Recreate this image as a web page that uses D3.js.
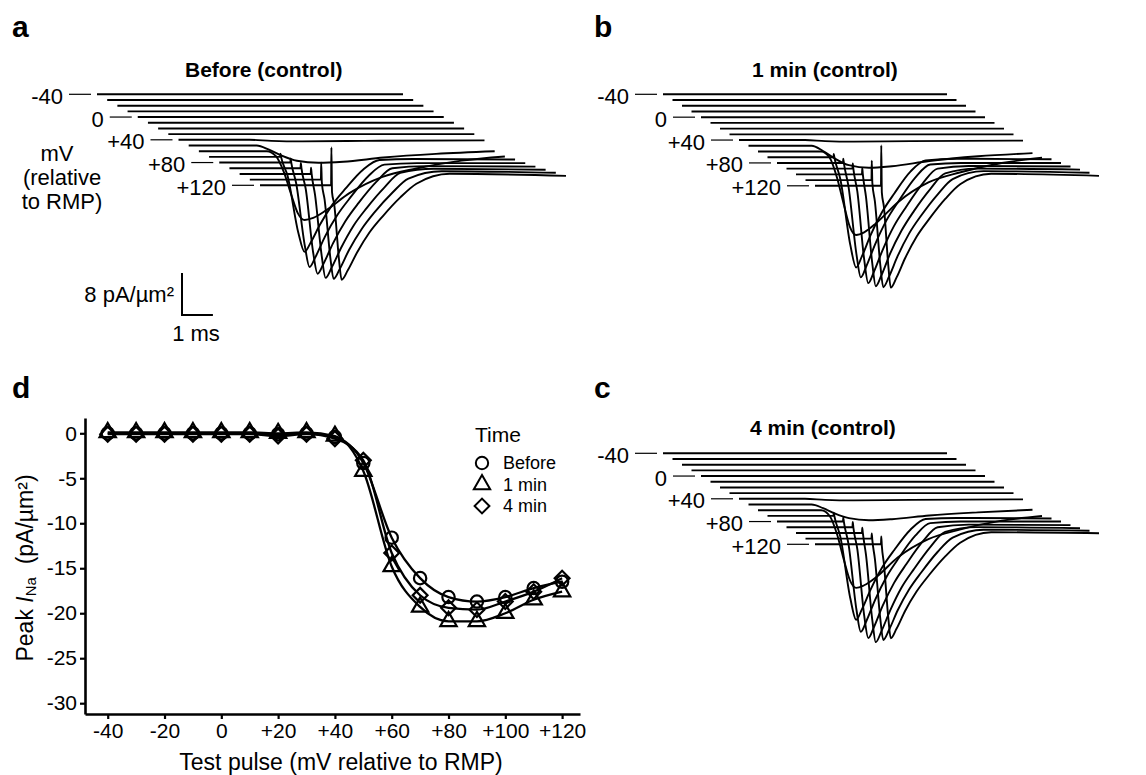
<!DOCTYPE html>
<html>
<head>
<meta charset="utf-8">
<script src="https://cdn.jsdelivr.net/npm/d3@7"></script>
<style>
  body { margin: 0; background: #fff; }
  svg text { font-family: "Liberation Sans", Arial, sans-serif; fill: #000; }
</style>
</head>
<body>
<svg id="fig" width="1146" height="775"></svg>
<script>
// ---- data ----
var testPulses = [-40, -30, -20, -10, 0, 10, 20, 30, 40, 50, 60, 70, 80, 90, 100, 110, 120];
var traceLabels = [-40, 0, 40, 80, 120];
var traceDuration = 9.9; // ms

// key points of each current trace: [time (ms), current (pA/um2)]
var flat = [[0, 0], [9.9, 0]];
var tracesBefore = [
  flat, flat, flat, flat, flat, flat, flat, flat,
  [[0,0],[2.3,0],[3.0,-0.2],[4.0,-0.3],[6.0,-0.2],[9.9,-0.1]],
  [[0,0],[2.2,0],[2.6,-0.8],[3.0,-1.9],[3.5,-2.9],[4.2,-3.3],[5.0,-3.1],[6.3,-2.3],[8.0,-1.6],[9.9,-1.1]],
  [[0,0],[2.2,0],[2.5,-1.0],[2.75,-4.0],[3.0,-8.5],[3.2,-11.8],[3.42,-13.1],[3.7,-12.7],[4.13,-11.2],[4.87,-8.0],[5.94,-4.9],[7.03,-3.3],[8.5,-1.8],[9.9,-1.0]],
  [[0,0],[2.3,0],[2.31,0.6],[2.33,0],[2.54,-3.6],[2.89,-14.5],[3.09,-18.1],[3.29,-16.3],[3.59,-12.9],[3.99,-9.1],[4.42,-6.0],[4.99,-2.4],[5.51,-0.6],[6.6,-0.4],[9.9,-0.5]],
  [[0,0],[2.3,0],[2.31,0.8],[2.33,0],[2.49,-4.0],[2.77,-15.9],[2.92,-19.9],[3.12,-17.9],[3.42,-14.1],[3.82,-10.0],[4.25,-6.6],[4.82,-2.6],[5.34,-0.4],[6.4,-0.1],[9.9,-0.1]],
  [[0,0],[2.3,0],[2.31,1.0],[2.33,0],[2.47,-4.0],[2.71,-16.1],[2.85,-20.1],[3.05,-18.1],[3.35,-14.3],[3.75,-10.1],[4.18,-6.6],[4.75,-2.6],[5.27,0],[6.35,0.4],[9.9,0.3]],
  [[0,0],[2.3,0],[2.31,1.2],[2.33,0],[2.44,-4.0],[2.66,-15.8],[2.78,-19.8],[2.98,-17.8],[3.28,-14.1],[3.68,-9.9],[4.11,-6.5],[4.68,-2.6],[5.2,0.2],[6.28,1.0],[9.9,0.8]],
  [[0,0],[2.3,0],[2.31,3.2],[2.33,-0.5],[2.42,-3.8],[2.61,-15.1],[2.71,-18.9],[2.91,-17.0],[3.21,-13.4],[3.61,-9.5],[4.04,-6.2],[4.61,-2.5],[5.13,0.2],[6.21,1.6],[9.9,1.3]],
  [[0,0],[2.3,0],[2.31,7.2],[2.33,-1.3],[2.40,-3.6],[2.56,-14.4],[2.64,-18.0],[2.84,-16.2],[3.14,-12.8],[3.54,-9.0],[3.97,-5.9],[4.54,-2.3],[5.06,0.3],[6.14,2.2],[9.9,1.8]]
];
var traces1min = [
  flat, flat, flat, flat, flat, flat, flat, flat,
  [[0,0],[2.3,0],[3.0,-0.2],[4.0,-0.3],[6.0,-0.2],[9.9,-0.1]],
  [[0,0],[2.2,0],[2.6,-1.0],[3.0,-2.4],[3.5,-3.7],[4.2,-4.2],[5.0,-3.9],[6.3,-2.9],[8.0,-2.0],[9.9,-1.4]],
  [[0,0],[2.2,0],[2.5,-1.2],[2.75,-4.9],[3.0,-10.3],[3.2,-14.3],[3.42,-15.9],[3.7,-15.4],[4.13,-13.6],[4.87,-9.7],[5.94,-5.9],[7.03,-4.0],[8.5,-2.2],[9.9,-1.2]],
  [[0,0],[2.3,0],[2.31,0.6],[2.33,0],[2.54,-4.2],[2.89,-16.8],[3.09,-21.0],[3.29,-18.9],[3.59,-14.9],[3.99,-10.5],[4.42,-6.9],[4.99,-2.7],[5.51,-0.6],[6.6,-0.3],[9.9,-0.4]],
  [[0,0],[2.3,0],[2.31,0.8],[2.33,0],[2.49,-4.4],[2.77,-17.4],[2.92,-21.8],[3.12,-19.6],[3.42,-15.5],[3.82,-10.9],[4.25,-7.2],[4.82,-2.8],[5.34,-0.3],[6.4,0],[9.9,0]],
  [[0,0],[2.3,0],[2.31,1.0],[2.33,0],[2.47,-4.4],[2.71,-17.4],[2.85,-21.8],[3.05,-19.6],[3.35,-15.5],[3.75,-10.9],[4.18,-7.2],[4.75,-2.8],[5.27,0],[6.35,0.5],[9.9,0.4]],
  [[0,0],[2.3,0],[2.31,1.2],[2.33,0],[2.44,-4.3],[2.66,-17.0],[2.78,-21.3],[2.98,-19.2],[3.28,-15.1],[3.68,-10.7],[4.11,-7.0],[4.68,-2.8],[5.2,0.2],[6.28,1.1],[9.9,0.9]],
  [[0,0],[2.3,0],[2.31,3.7],[2.33,-0.5],[2.42,-4.1],[2.61,-16.3],[2.71,-20.4],[2.91,-18.4],[3.21,-14.5],[3.61,-10.2],[4.04,-6.7],[4.61,-2.7],[5.13,0.2],[6.21,1.7],[9.9,1.4]],
  [[0,0],[2.3,0],[2.31,7.7],[2.33,-1.3],[2.40,-3.9],[2.56,-15.5],[2.64,-19.4],[2.84,-17.5],[3.14,-13.8],[3.54,-9.7],[3.97,-6.4],[4.54,-2.5],[5.06,0.3],[6.14,2.3],[9.9,1.9]]
];
var traces4min = [
  flat, flat, flat, flat, flat, flat, flat, flat,
  [[0,0],[2.3,0],[3.0,-0.2],[4.0,-0.3],[6.0,-0.2],[9.9,-0.1]],
  [[0,0],[2.2,0],[2.6,-0.7],[3.0,-1.7],[3.5,-2.6],[4.2,-3.0],[5.0,-2.8],[6.3,-2.1],[8.0,-1.5],[9.9,-1.0]],
  [[0,0],[2.2,0],[2.5,-1.1],[2.75,-4.5],[3.0,-9.6],[3.2,-13.3],[3.42,-14.8],[3.7,-14.3],[4.13,-12.7],[4.87,-9.0],[5.94,-5.5],[7.03,-3.7],[8.5,-2.0],[9.9,-1.1]],
  [[0,0],[2.3,0],[2.31,0.6],[2.33,0],[2.54,-4.0],[2.89,-15.8],[3.09,-19.8],[3.29,-17.8],[3.59,-14.1],[3.99,-9.9],[4.42,-6.5],[4.99,-2.6],[5.51,-0.6],[6.6,-0.4],[9.9,-0.5]],
  [[0,0],[2.3,0],[2.31,0.8],[2.33,0],[2.49,-4.2],[2.77,-16.8],[2.92,-21.0],[3.12,-18.9],[3.42,-14.9],[3.82,-10.5],[4.25,-6.9],[4.82,-2.7],[5.34,-0.3],[6.4,0],[9.9,0]],
  [[0,0],[2.3,0],[2.31,1.0],[2.33,0],[2.47,-4.2],[2.71,-16.9],[2.85,-21.1],[3.05,-19.0],[3.35,-15.0],[3.75,-10.6],[4.18,-7.0],[4.75,-2.7],[5.27,0],[6.35,0.5],[9.9,0.4]],
  [[0,0],[2.3,0],[2.31,1.0],[2.33,0],[2.44,-4.2],[2.66,-16.6],[2.78,-20.8],[2.98,-18.7],[3.28,-14.8],[3.68,-10.4],[4.11,-6.9],[4.68,-2.7],[5.2,0.2],[6.28,1.1],[9.9,0.9]],
  [[0,0],[2.3,0],[2.31,1.0],[2.33,-0.3],[2.42,-3.9],[2.61,-15.4],[2.71,-19.3],[2.91,-17.4],[3.21,-13.7],[3.61,-9.7],[4.04,-6.4],[4.61,-2.5],[5.13,0.2],[6.21,1.7],[9.9,1.5]],
  [[0,0],[2.3,0],[2.31,1.5],[2.33,-0.3],[2.40,-3.6],[2.56,-14.3],[2.64,-17.9],[2.84,-16.1],[3.14,-12.7],[3.54,-9.0],[3.97,-5.9],[4.54,-2.3],[5.06,0.3],[6.14,2.3],[9.9,2.1]]
];

// peak INa vs test pulse (panel d)
var peakBefore = [0, 0, 0, 0, 0, 0, -0.1, 0, -0.4, -3.3, -11.6, -16.1, -18.2, -18.7, -18.2, -17.2, -16.5];
var peak1min   = [0.1, 0.1, 0.1, 0.1, 0.1, 0.1, 0, 0.1, -0.3, -4.2, -14.8, -19.3, -20.9, -20.9, -20.0, -18.5, -17.6];
var peak4min   = [-0.1, -0.1, -0.1, -0.1, -0.1, -0.1, -0.3, -0.1, -0.6, -3.0, -13.3, -18.0, -19.4, -19.6, -18.7, -17.6, -16.1];
var yTicks = [0, -5, -10, -15, -20, -25, -30];
var xTicks = [-40, -20, 0, 20, 40, 60, 80, 100, 120];

var svg = d3.select("#fig");
var fmtPulse = function (v) { return v > 0 ? "+" + v : String(v); };

// ---- waterfall panels ----
function drawTraces(cfg, traces) {
  var g = svg.append("g");
  var offX = d3.scaleLinear().domain([-40, 120]).range([cfg.x0, cfg.x0 + cfg.spanX]);
  var offY = d3.scaleLinear().domain([-40, 120]).range([cfg.y0, cfg.y0 + cfg.spanY]);
  var t = d3.scaleLinear().domain([0, traceDuration]).range([0, cfg.len]);
  var cur = d3.scaleLinear().domain([0, -8]).range([0, 42]);

  testPulses.forEach(function (v, k) {
    var line = d3.line()
      .x(function (d) { return offX(v) + t(d[0]); })
      .y(function (d) { return offY(v) + cur(d[1]); })
      .curve(d3.curveMonotoneX);
    g.append("path")
      .attr("d", line(traces[k]))
      .attr("fill", "none")
      .attr("stroke", "#000")
      .attr("stroke-width", 1.9)
      .attr("stroke-linejoin", "round");
  });

  // voltage labels with leader lines
  traceLabels.forEach(function (v) {
    var x = offX(v), y = offY(v);
    g.append("line")
      .attr("x1", x - 28).attr("x2", x - 6)
      .attr("y1", y).attr("y2", y)
      .attr("stroke", "#000").attr("stroke-width", 1.2);
    g.append("text")
      .attr("x", x - 34).attr("y", y + 2)
      .attr("text-anchor", "end")
      .attr("dominant-baseline", "central")
      .style("font-size", "22px")
      .text(fmtPulse(v));
  });

  g.append("text")
    .attr("x", cfg.titleX).attr("y", cfg.titleY)
    .style("font-size", "21px").style("font-weight", "bold")
    .text(cfg.title);

  return { t: t, cur: cur };
}

var sa = drawTraces({ x0: 97, y0: 94.3, spanX: 163, spanY: 91, len: 306, title: "Before (control)", titleX: 185, titleY: 77 }, tracesBefore);
drawTraces({ x0: 663, y0: 94.3, spanX: 152, spanY: 91.5, len: 284, title: "1 min (control)", titleX: 752, titleY: 77 }, traces1min);
drawTraces({ x0: 663, y0: 453.3, spanX: 152, spanY: 91, len: 284, title: "4 min (control)", titleX: 750, titleY: 435 }, traces4min);

// mV label of panel a
[["mV", 57, 153], ["(relative", 62, 177], ["to RMP)", 62, 201]].forEach(function (d) {
  svg.append("text")
    .attr("x", d[1]).attr("y", d[2])
    .attr("text-anchor", "middle")
    .attr("dominant-baseline", "central")
    .style("font-size", "22px")
    .text(d[0]);
});

// scale bar
var sbX = 182, sbY = 315;
svg.append("path")
  .attr("d", "M" + sbX + "," + (sbY - sa.cur(-8)) + "V" + sbY + "H" + (sbX + sa.t(1)))
  .attr("fill", "none").attr("stroke", "#000").attr("stroke-width", 2);
svg.append("text").attr("x", sbX - 8).attr("y", sbY - 21)
  .attr("text-anchor", "end").attr("dominant-baseline", "central")
  .style("font-size", "22px").text("8 pA/\u00b5m\u00b2");
svg.append("text").attr("x", sbX + 14).attr("y", sbY + 18)
  .attr("text-anchor", "middle").attr("dominant-baseline", "central")
  .style("font-size", "22px").text("1 ms");

// panel letters
[["a", 12, 37], ["b", 594, 37], ["d", 12, 398], ["c", 594, 398]].forEach(function (d) {
  svg.append("text").attr("x", d[1]).attr("y", d[2])
    .style("font-size", "30px").style("font-weight", "bold").text(d[0]);
});

// ---- panel d ----
var x = d3.scaleLinear().domain([-48, 126.3]).range([85, 580]);
var y = d3.scaleLinear().domain([1.7, -31.2]).range([418, 714]);
var gd = svg.append("g");

var yAxis = gd.append("g").attr("transform", "translate(85,0)")
  .call(d3.axisLeft(y).tickValues(yTicks).tickFormat(String).tickSize(5).tickSizeOuter(0).tickPadding(3));
var xAxis = gd.append("g").attr("transform", "translate(0,714)")
  .call(d3.axisBottom(x).tickValues(xTicks).tickFormat(fmtPulse).tickSize(5).tickSizeOuter(0).tickPadding(4));
[yAxis, xAxis].forEach(function (a) {
  a.select(".domain").attr("stroke-width", 2.6);
  a.selectAll(".tick line").attr("stroke-width", 2.2);
  a.selectAll(".tick text").style("font-size", "21px").attr("fill", "#000");
});

var series = [
  { name: "Before", values: peakBefore, symbol: d3.symbolCircle, size: 120, rot: 0 },
  { name: "1 min", values: peak1min, symbol: d3.symbolTriangle, size: 115, rot: 0 },
  { name: "4 min", values: peak4min, symbol: d3.symbolSquare, size: 110, rot: 45 }
];

series.forEach(function (s) {
  var line = d3.line()
    .x(function (d, i) { return x(testPulses[i]); })
    .y(function (d) { return y(d); })
    .curve(d3.curveMonotoneX);
  gd.append("path").attr("d", line(s.values))
    .attr("fill", "none").attr("stroke", "#000").attr("stroke-width", 2.3);
});

series.forEach(function (s) {
  var sym = d3.symbol().type(s.symbol).size(s.size);
  gd.selectAll(null).data(s.values).enter().append("path")
    .attr("d", sym)
    .attr("transform", function (d, i) {
      return "translate(" + x(testPulses[i]) + "," + y(d) + ") rotate(" + s.rot + ")";
    })
    .attr("fill", "none").attr("stroke", "#000").attr("stroke-width", 2.2);
});

// axis titles
gd.append("text").attr("x", 341).attr("y", 762)
  .attr("text-anchor", "middle").attr("dominant-baseline", "central")
  .style("font-size", "23px").text("Test pulse (mV relative to RMP)");
var yt = gd.append("text").attr("transform", "translate(25,568) rotate(-90)")
  .attr("text-anchor", "middle").attr("dominant-baseline", "central")
  .style("font-size", "23px");
yt.append("tspan").text("Peak ");
yt.append("tspan").style("font-style", "italic").text("I");
yt.append("tspan").style("font-size", "15px").attr("dy", 5).text("Na");
yt.append("tspan").attr("dy", -5).text("\u00a0\u00a0(pA/\u00b5m\u00b2)");

// legend
gd.append("text").attr("x", 475).attr("y", 434)
  .attr("dominant-baseline", "central").style("font-size", "21px").text("Time");
series.forEach(function (s, i) {
  var ly = 463 + i * 21.5;
  gd.append("path")
    .attr("d", d3.symbol().type(s.symbol).size(s.size)())
    .attr("transform", "translate(482," + ly + ") rotate(" + s.rot + ")")
    .attr("fill", "none").attr("stroke", "#000").attr("stroke-width", 2);
  gd.append("text").attr("x", 503).attr("y", ly)
    .attr("dominant-baseline", "central").style("font-size", "18px").text(s.name);
});
</script>
</body>
</html>
